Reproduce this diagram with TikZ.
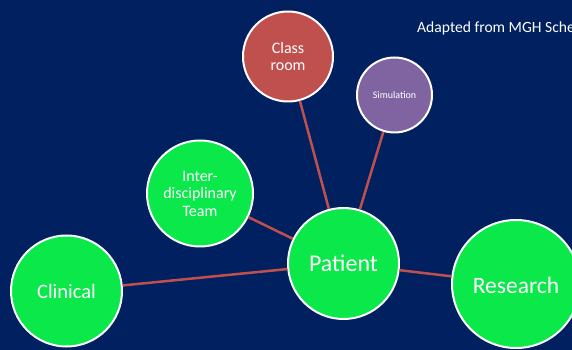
\documentclass[tikz,border=0pt]{standalone}
\usepackage{fontspec}
\setmainfont{Carlito}
\usetikzlibrary{positioning}
\definecolor{slideblue}{HTML}{002060}
\definecolor{bubblegreen}{HTML}{0AE84A}
\definecolor{bubblered}{HTML}{C0504D}
\definecolor{bubblepurple}{HTML}{8064A2}

\begin{document}
\begin{tikzpicture}[on grid,
  bubble/.style={circle,draw=white,line width=2pt,fill=bubblegreen,text=white,align=center,inner sep=0pt}]
  \useasboundingbox (0,0) rectangle (572pt,350pt);
  \clip (0,0) rectangle (572pt,350pt);
  \fill[slideblue] (0,0) rectangle (572pt,350pt);

  \node[bubble,minimum size=111pt,font=\fontsize{24}{26}\selectfont] (P) at (343.5pt,86.5pt) {Patient};
  \node[bubble,minimum size=111pt,font=\fontsize{20.5}{22}\selectfont] (C) [below left=27.5pt and 277pt of P] {Clinical};
  \node[bubble,minimum size=106pt,font=\fontsize{16}{17.5}\selectfont] (T) [above left=70pt and 143.5pt of P] {Inter-\\disciplinary\\Team};
  \node[bubble,minimum size=90pt,fill=bubblered,font=\fontsize{16}{17.5}\selectfont] (K) [above left=207pt and 55.5pt of P] {Class\\room};
  \node[bubble,minimum size=75pt,fill=bubblepurple,font=\fontsize{10}{12}\selectfont] (S) [above right=168.5pt and 51pt of P] {Simulation};
  \node[bubble,minimum size=128pt,font=\fontsize{23.5}{26}\selectfont,text height=20pt] (R) [below right=20.5pt and 172.5pt of P] {Research};

  \node[anchor=base west,text=white,inner sep=0pt,font=\fontsize{15.6}{18}\selectfont] (src) at (417pt,317pt) {Adapted from MGH Sche};

\tikzset{mylink/.style={line width=2.5pt,draw=bubblered}}
\path (P)     edge [mylink]    (C)
      (P)     edge [mylink]    (T)
      (P)     edge [mylink]    (K)
      (P)     edge [mylink]    (S)
      (P)     edge [mylink]    (R);

\end{tikzpicture}
\end{document}
